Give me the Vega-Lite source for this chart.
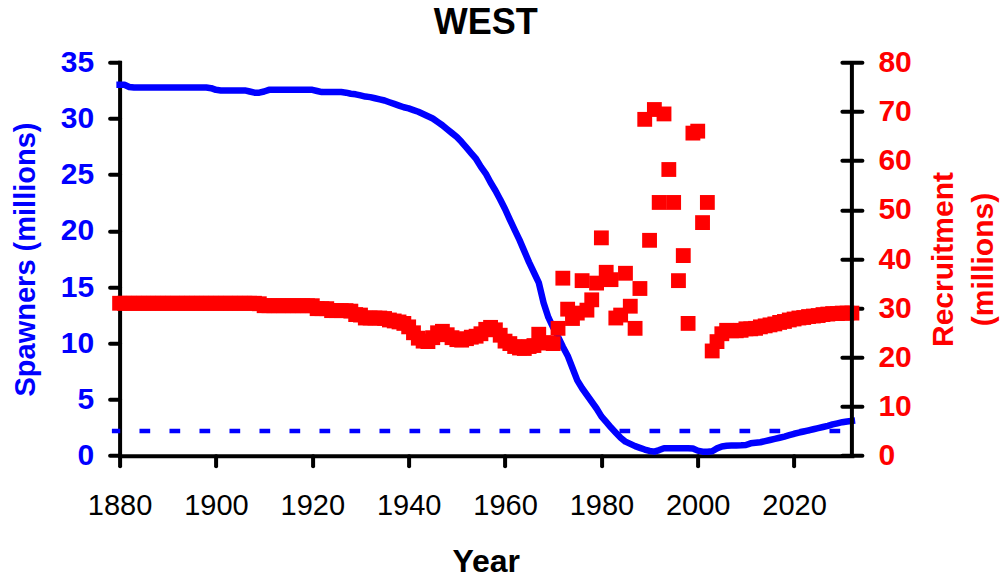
{
  "$schema": "https://vega.github.io/schema/vega-lite/v6.json",
  "width": 732.3,
  "height": 393.4,
  "autosize": {"type": "none"},
  "padding": {"left": 119.6, "top": 62.3, "right": 156.1, "bottom": 124.3},
  "background": "white",
  "title": {"text": "WEST", "fontSize": 36, "fontWeight": "bold", "color": "black", "anchor": "middle", "baseline": "alphabetic", "offset": -23},
  "config": {
    "font": "Liberation Sans",
    "view": {"stroke": null},
    "axis": {"grid": false, "tickColor": "black", "domainColor": "black", "tickWidth": 4, "domainWidth": 4, "tickCap": "round", "domainCap": "square", "labelOverlap": false, "labelFlush": false, "labelBound": false}
  },
  "data": {"values": [
    {"Year":1880,"Spawners":33.0,"Recruitment":31.0},
    {"Year":1881,"Spawners":33.0,"Recruitment":31.0},
    {"Year":1882,"Spawners":32.8,"Recruitment":31.0},
    {"Year":1883,"Spawners":32.75,"Recruitment":31.0},
    {"Year":1884,"Spawners":32.75,"Recruitment":31.0},
    {"Year":1885,"Spawners":32.75,"Recruitment":31.0},
    {"Year":1886,"Spawners":32.75,"Recruitment":31.0},
    {"Year":1887,"Spawners":32.75,"Recruitment":31.0},
    {"Year":1888,"Spawners":32.75,"Recruitment":31.0},
    {"Year":1889,"Spawners":32.75,"Recruitment":31.0},
    {"Year":1890,"Spawners":32.75,"Recruitment":31.0},
    {"Year":1891,"Spawners":32.75,"Recruitment":31.0},
    {"Year":1892,"Spawners":32.75,"Recruitment":31.0},
    {"Year":1893,"Spawners":32.75,"Recruitment":31.0},
    {"Year":1894,"Spawners":32.75,"Recruitment":31.0},
    {"Year":1895,"Spawners":32.75,"Recruitment":31.0},
    {"Year":1896,"Spawners":32.75,"Recruitment":31.0},
    {"Year":1897,"Spawners":32.75,"Recruitment":31.0},
    {"Year":1898,"Spawners":32.75,"Recruitment":31.0},
    {"Year":1899,"Spawners":32.7,"Recruitment":31.0},
    {"Year":1900,"Spawners":32.55,"Recruitment":31.0},
    {"Year":1901,"Spawners":32.5,"Recruitment":31.0},
    {"Year":1902,"Spawners":32.5,"Recruitment":31.0},
    {"Year":1903,"Spawners":32.5,"Recruitment":31.0},
    {"Year":1904,"Spawners":32.5,"Recruitment":31.0},
    {"Year":1905,"Spawners":32.5,"Recruitment":31.0},
    {"Year":1906,"Spawners":32.5,"Recruitment":31.0},
    {"Year":1907,"Spawners":32.4,"Recruitment":31.0},
    {"Year":1908,"Spawners":32.3,"Recruitment":31.0},
    {"Year":1909,"Spawners":32.3,"Recruitment":30.9},
    {"Year":1910,"Spawners":32.4,"Recruitment":30.5},
    {"Year":1911,"Spawners":32.55,"Recruitment":30.5},
    {"Year":1912,"Spawners":32.55,"Recruitment":30.5},
    {"Year":1913,"Spawners":32.55,"Recruitment":30.5},
    {"Year":1914,"Spawners":32.55,"Recruitment":30.5},
    {"Year":1915,"Spawners":32.55,"Recruitment":30.5},
    {"Year":1916,"Spawners":32.55,"Recruitment":30.5},
    {"Year":1917,"Spawners":32.55,"Recruitment":30.5},
    {"Year":1918,"Spawners":32.55,"Recruitment":30.5},
    {"Year":1919,"Spawners":32.55,"Recruitment":30.5},
    {"Year":1920,"Spawners":32.55,"Recruitment":30.5},
    {"Year":1921,"Spawners":32.45,"Recruitment":29.9},
    {"Year":1922,"Spawners":32.35,"Recruitment":29.9},
    {"Year":1923,"Spawners":32.35,"Recruitment":29.9},
    {"Year":1924,"Spawners":32.35,"Recruitment":29.5},
    {"Year":1925,"Spawners":32.35,"Recruitment":29.5},
    {"Year":1926,"Spawners":32.35,"Recruitment":29.5},
    {"Year":1927,"Spawners":32.3,"Recruitment":29.5},
    {"Year":1928,"Spawners":32.2,"Recruitment":29.4},
    {"Year":1929,"Spawners":32.15,"Recruitment":28.7},
    {"Year":1930,"Spawners":32.05,"Recruitment":28.6},
    {"Year":1931,"Spawners":31.95,"Recruitment":28.0},
    {"Year":1932,"Spawners":31.9,"Recruitment":28.0},
    {"Year":1933,"Spawners":31.8,"Recruitment":28.0},
    {"Year":1934,"Spawners":31.7,"Recruitment":28.0},
    {"Year":1935,"Spawners":31.6,"Recruitment":27.9},
    {"Year":1936,"Spawners":31.45,"Recruitment":27.6},
    {"Year":1937,"Spawners":31.3,"Recruitment":27.4},
    {"Year":1938,"Spawners":31.15,"Recruitment":27.2},
    {"Year":1939,"Spawners":31.0,"Recruitment":26.9},
    {"Year":1940,"Spawners":30.9,"Recruitment":26.2},
    {"Year":1941,"Spawners":30.75,"Recruitment":25.0},
    {"Year":1942,"Spawners":30.6,"Recruitment":23.9},
    {"Year":1943,"Spawners":30.4,"Recruitment":23.3},
    {"Year":1944,"Spawners":30.2,"Recruitment":23.2},
    {"Year":1945,"Spawners":30.0,"Recruitment":24.0},
    {"Year":1946,"Spawners":29.7,"Recruitment":25.0},
    {"Year":1947,"Spawners":29.4,"Recruitment":25.3},
    {"Year":1948,"Spawners":29.05,"Recruitment":24.6},
    {"Year":1949,"Spawners":28.7,"Recruitment":24.0},
    {"Year":1950,"Spawners":28.35,"Recruitment":23.6},
    {"Year":1951,"Spawners":27.9,"Recruitment":23.5},
    {"Year":1952,"Spawners":27.4,"Recruitment":23.8},
    {"Year":1953,"Spawners":26.9,"Recruitment":24.1},
    {"Year":1954,"Spawners":26.4,"Recruitment":24.3},
    {"Year":1955,"Spawners":25.7,"Recruitment":24.8},
    {"Year":1956,"Spawners":25.1,"Recruitment":25.7},
    {"Year":1957,"Spawners":24.3,"Recruitment":26.1},
    {"Year":1958,"Spawners":23.6,"Recruitment":25.6},
    {"Year":1959,"Spawners":22.8,"Recruitment":24.5},
    {"Year":1960,"Spawners":21.95,"Recruitment":23.3},
    {"Year":1961,"Spawners":21.0,"Recruitment":22.8},
    {"Year":1962,"Spawners":20.1,"Recruitment":22.2},
    {"Year":1963,"Spawners":19.2,"Recruitment":21.9},
    {"Year":1964,"Spawners":18.2,"Recruitment":21.8},
    {"Year":1965,"Spawners":17.2,"Recruitment":22.2},
    {"Year":1966,"Spawners":16.3,"Recruitment":22.4},
    {"Year":1967,"Spawners":15.4,"Recruitment":24.7},
    {"Year":1968,"Spawners":13.6,"Recruitment":23.0},
    {"Year":1969,"Spawners":12.3,"Recruitment":22.9},
    {"Year":1970,"Spawners":11.4,"Recruitment":22.8},
    {"Year":1971,"Spawners":10.6,"Recruitment":25.9},
    {"Year":1972,"Spawners":9.7,"Recruitment":36.1},
    {"Year":1973,"Spawners":8.9,"Recruitment":29.8},
    {"Year":1974,"Spawners":7.8,"Recruitment":27.9},
    {"Year":1975,"Spawners":6.7,"Recruitment":29.0},
    {"Year":1976,"Spawners":6.0,"Recruitment":35.6},
    {"Year":1977,"Spawners":5.4,"Recruitment":29.6},
    {"Year":1978,"Spawners":4.8,"Recruitment":31.7},
    {"Year":1979,"Spawners":4.2,"Recruitment":35.1},
    {"Year":1980,"Spawners":3.5,"Recruitment":44.3},
    {"Year":1981,"Spawners":3.0,"Recruitment":37.3},
    {"Year":1982,"Spawners":2.5,"Recruitment":35.8},
    {"Year":1983,"Spawners":2.05,"Recruitment":28.0},
    {"Year":1984,"Spawners":1.6,"Recruitment":28.6},
    {"Year":1985,"Spawners":1.25,"Recruitment":37.1},
    {"Year":1986,"Spawners":1.05,"Recruitment":30.4},
    {"Year":1987,"Spawners":0.85,"Recruitment":25.9},
    {"Year":1988,"Spawners":0.7,"Recruitment":34.0},
    {"Year":1989,"Spawners":0.55,"Recruitment":68.4},
    {"Year":1990,"Spawners":0.42,"Recruitment":43.8},
    {"Year":1991,"Spawners":0.36,"Recruitment":70.4},
    {"Year":1992,"Spawners":0.5,"Recruitment":51.5},
    {"Year":1993,"Spawners":0.66,"Recruitment":69.5},
    {"Year":1994,"Spawners":0.66,"Recruitment":58.2},
    {"Year":1995,"Spawners":0.66,"Recruitment":51.5},
    {"Year":1996,"Spawners":0.66,"Recruitment":35.6},
    {"Year":1997,"Spawners":0.66,"Recruitment":40.7},
    {"Year":1998,"Spawners":0.66,"Recruitment":26.9},
    {"Year":1999,"Spawners":0.64,"Recruitment":65.6},
    {"Year":2000,"Spawners":0.45,"Recruitment":66.0},
    {"Year":2001,"Spawners":0.36,"Recruitment":47.4},
    {"Year":2002,"Spawners":0.36,"Recruitment":51.5},
    {"Year":2003,"Spawners":0.4,"Recruitment":21.3},
    {"Year":2004,"Spawners":0.65,"Recruitment":23.2},
    {"Year":2005,"Spawners":0.82,"Recruitment":24.8},
    {"Year":2006,"Spawners":0.88,"Recruitment":25.5},
    {"Year":2007,"Spawners":0.9,"Recruitment":25.4},
    {"Year":2008,"Spawners":0.9,"Recruitment":25.4},
    {"Year":2009,"Spawners":0.92,"Recruitment":25.5},
    {"Year":2010,"Spawners":0.95,"Recruitment":25.8},
    {"Year":2011,"Spawners":1.1,"Recruitment":25.8},
    {"Year":2012,"Spawners":1.15,"Recruitment":25.9},
    {"Year":2013,"Spawners":1.2,"Recruitment":26.2},
    {"Year":2014,"Spawners":1.3,"Recruitment":26.4},
    {"Year":2015,"Spawners":1.4,"Recruitment":26.6},
    {"Year":2016,"Spawners":1.5,"Recruitment":26.8},
    {"Year":2017,"Spawners":1.6,"Recruitment":27.1},
    {"Year":2018,"Spawners":1.7,"Recruitment":27.3},
    {"Year":2019,"Spawners":1.82,"Recruitment":27.6},
    {"Year":2020,"Spawners":1.95,"Recruitment":27.8},
    {"Year":2021,"Spawners":2.05,"Recruitment":28.0},
    {"Year":2022,"Spawners":2.15,"Recruitment":28.1},
    {"Year":2023,"Spawners":2.25,"Recruitment":28.3},
    {"Year":2024,"Spawners":2.35,"Recruitment":28.4},
    {"Year":2025,"Spawners":2.45,"Recruitment":28.5},
    {"Year":2026,"Spawners":2.55,"Recruitment":28.7},
    {"Year":2027,"Spawners":2.65,"Recruitment":28.8},
    {"Year":2028,"Spawners":2.78,"Recruitment":28.9},
    {"Year":2029,"Spawners":2.88,"Recruitment":28.9},
    {"Year":2030,"Spawners":2.98,"Recruitment":29.0},
    {"Year":2031,"Spawners":3.05,"Recruitment":29.0},
    {"Year":2032,"Spawners":3.1,"Recruitment":29.0}
  ]},
  "encoding": {
    "x": {
      "field": "Year", "type": "quantitative",
      "scale": {"domain": [1880, 2032], "nice": false, "zero": false},
      "axis": {
        "values": [1880, 1900, 1920, 1940, 1960, 1980, 2000, 2020],
        "format": "d",
        "tickSize": 10,
        "labelFontSize": 29, "labelColor": "black", "labelFontWeight": "normal", "labelPadding": 26,
        "title": "Year", "titleFontSize": 32, "titleFontWeight": "bold", "titleColor": "black",
        "titleY": 116, "titleBaseline": "alphabetic"
      }
    }
  },
  "layer": [
    {
      "mark": {"type": "line", "color": "#0000FF", "strokeWidth": 6.5, "strokeCap": "square", "strokeJoin": "round"},
      "encoding": {
        "y": {
          "field": "Spawners", "type": "quantitative",
          "scale": {"domain": [0, 35], "nice": false},
          "axis": {
            "orient": "left",
            "values": [0, 5, 10, 15, 20, 25, 30, 35],
            "tickSize": 10,
            "labelFontSize": 30, "labelFontWeight": "bold", "labelColor": "#0000FF", "labelPadding": 16,
            "title": "Spawners (millions)", "titleFontSize": 29, "titleFontWeight": "bold", "titleColor": "#0000FF",
            "titleAngle": 270, "titleX": -85, "titleBaseline": "alphabetic"
          }
        }
      }
    },
    {
      "data": {"values": [{"Start": 1878.4, "End": 2030.6, "Threshold": 2.2}]},
      "mark": {"type": "rule", "color": "#0000FF", "strokeWidth": 4.5, "strokeDash": [10.7, 19.3], "strokeDashOffset": 2.4},
      "encoding": {
        "x": {"field": "Start", "type": "quantitative"},
        "x2": {"field": "End"},
        "y": {"field": "Threshold", "type": "quantitative", "scale": {"domain": [0, 35], "nice": false}, "axis": null}
      }
    },
    {
      "mark": {"type": "point", "shape": "square", "filled": true, "size": 220, "color": "#FF0000", "opacity": 1},
      "encoding": {
        "y": {
          "field": "Recruitment", "type": "quantitative",
          "scale": {"domain": [0, 80], "nice": false},
          "axis": {
            "orient": "right",
            "values": [0, 10, 20, 30, 40, 50, 60, 70, 80],
            "offset": -10,
            "tickSize": 20,
            "domain": false,
            "labelFontSize": 30, "labelFontWeight": "bold", "labelColor": "#FF0000", "labelPadding": 16,
            "title": ["Recruitment", "(millions)"], "titleFontSize": 30, "titleFontWeight": "bold", "titleColor": "#FF0000",
            "titleAngle": 270, "titleX": 111, "titleBaseline": "alphabetic", "titleLineHeight": 40
          }
        }
      }
    },
    {
      "data": {"values": [{"Edge": 2032}]},
      "mark": {"type": "rule", "color": "black", "strokeWidth": 4},
      "encoding": {"x": {"field": "Edge", "type": "quantitative"}}
    }
  ],
  "resolve": {"scale": {"y": "independent"}}
}
